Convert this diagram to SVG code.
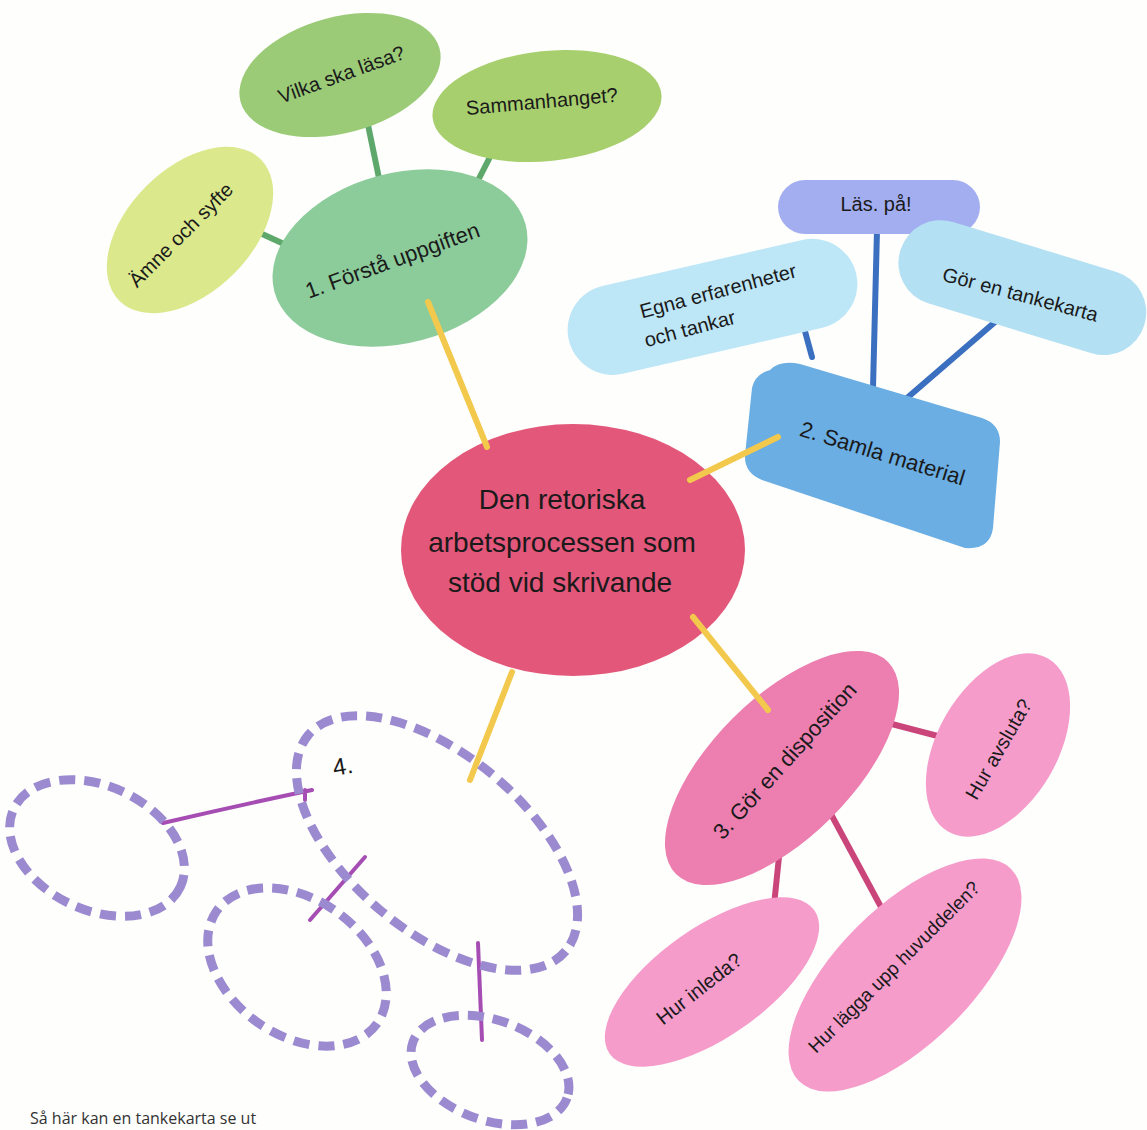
<svg xmlns="http://www.w3.org/2000/svg" width="1147" height="1130" viewBox="0 0 1147 1130">
<style>
.t{font-family:"Liberation Sans",Arial,sans-serif;fill:#1a1a1a;text-anchor:middle;dominant-baseline:middle}
.c{fill:none;stroke-linecap:round}
.g{stroke:#5fa86c;stroke-width:6}
.y{stroke:#f2c94c;stroke-width:6}
.b{stroke:#3b6fbf;stroke-width:6}
.p{stroke:#c9457a;stroke-width:6}
.v{stroke:#a64db3;stroke-width:4}
.d{fill:none;stroke:#9c8ad0;stroke-width:9;stroke-dasharray:16 9}
</style>
<rect width="1147" height="1130" fill="#fefefc"/>
<g id="connectors">
<line class="c g" x1="367" y1="120" x2="380" y2="183"/>
<line class="c g" x1="490" y1="157" x2="470" y2="196"/>
<line class="c g" x1="260" y1="233" x2="308" y2="255"/>
<line class="c b" x1="800" y1="313" x2="812" y2="357"/>
<line class="c b" x1="877" y1="230" x2="873" y2="388"/>
<line class="c b" x1="995" y1="322" x2="907" y2="398"/>
<line class="c p" x1="888" y1="723" x2="953" y2="740"/>
<line class="c p" x1="780" y1="847" x2="773" y2="915"/>
<line class="c p" x1="825" y1="803" x2="888" y2="920"/>
</g>
<g id="n-amne"><ellipse cx="190" cy="230" rx="100" ry="62" transform="rotate(-45 190 230)" fill="#dbe88c"/><text class="t" x="182" y="236" font-size="20" transform="rotate(-45 182 236)">Ämne och syfte</text></g>
<g id="n-vilka"><ellipse cx="340" cy="75" rx="103" ry="58" transform="rotate(-15 340 75)" fill="#9ccb78"/><text class="t" x="342" y="76" font-size="20" transform="rotate(-20 342 76)">Vilka ska läsa?</text></g>
<g id="n-samman"><ellipse cx="547" cy="106" rx="115" ry="55" transform="rotate(-6 547 106)" fill="#a8cf6e"/><text class="t" x="542" y="103" font-size="20" transform="rotate(-5 542 103)">Sammanhanget?</text></g>
<g id="n-forsta"><ellipse cx="400" cy="258" rx="130" ry="85" transform="rotate(-15 400 258)" fill="#8ccb9a"/><text class="t" x="393" y="262" font-size="22" transform="rotate(-20 393 262)">1. Förstå uppgiften</text></g>
<g id="n-las"><rect x="778" y="180" width="202" height="54" rx="27" fill="#a3aef0"/><text class="t" x="876" y="206" font-size="20">Läs. på!</text></g>
<g id="n-egna"><rect x="565" y="262" width="295" height="90" rx="45" transform="rotate(-13 712 307)" fill="#bde6f7"/><text class="t" font-size="20" transform="rotate(-15 712 307)"><tspan x="722" y="295">Egna erfarenheter</tspan><tspan x="685" y="324">och tankar</tspan></text></g>
<g id="n-gor"><rect x="895" y="245" width="255" height="85" rx="42" transform="rotate(17 1022 287)" fill="#b3e0f3"/><text class="t" x="1020" y="296" font-size="20" transform="rotate(15 1020 296)">Gör en tankekarta</text></g>
<g id="n-samla"><path d="M770,370 Q780,360 800,364 L982,418 Q1000,424 1000,442 L993,528 Q990,550 965,548 L762,480 Q744,473 745,455 L752,388 Q755,374 770,370 Z" fill="#6aaee3"/><text class="t" x="882" y="455" font-size="22" transform="rotate(17 882 455)">2. Samla material</text></g>
<g id="n-center"><ellipse cx="573" cy="550" rx="172" ry="126" fill="#e2577a"/><text class="t" font-size="28"><tspan x="562" y="502">Den retoriska</tspan><tspan x="562" y="545">arbetsprocessen som</tspan><tspan x="560" y="585">stöd vid skrivande</tspan></text></g>
<g id="n-disp"><ellipse cx="782" cy="768" rx="150" ry="70" transform="rotate(-45 782 768)" fill="#ec7fb0"/><text class="t" x="786" y="762" font-size="22" transform="rotate(-48 786 762)">3. Gör en disposition</text></g>
<g id="n-avsluta"><ellipse cx="998" cy="745" rx="100" ry="60" transform="rotate(-60 998 745)" fill="#f59ccb"/><text class="t" x="1000" y="750" font-size="20" transform="rotate(-60 1000 750)">Hur avsluta?</text></g>
<g id="n-inleda"><ellipse cx="712" cy="982" rx="125" ry="55" transform="rotate(-35 712 982)" fill="#f59ccb"/><text class="t" x="700" y="990" font-size="20" transform="rotate(-38 700 990)">Hur inleda?</text></g>
<g id="n-huvud"><ellipse cx="905" cy="975" rx="150" ry="68" transform="rotate(-45 905 975)" fill="#f59ccb"/><text class="t" x="895" y="968" font-size="19" transform="rotate(-45 895 968)">Hur lägga upp huvuddelen?</text></g>
<g id="purple-connectors">
<line class="c y" x1="428" y1="302" x2="487" y2="447"/>
<line class="c y" x1="778" y1="437" x2="690" y2="480"/>
<line class="c y" x1="693" y1="617" x2="768" y2="710"/>
<line class="c y" x1="512" y1="672" x2="470" y2="780"/>
<path class="c v" d="M163,823 Q240,805 312,790 M305,790 L305,800"/>
<line class="c v" x1="365" y1="857" x2="310" y2="920"/>
<line class="c v" x1="478" y1="943" x2="482" y2="1040"/>
</g>
<g id="n-4"><ellipse class="d" cx="437" cy="843" rx="168" ry="88" transform="rotate(40 437 843)"/><text class="t" x="343" y="768" font-size="24" transform="rotate(-10 343 768)">4.</text></g>
<g id="n-4a"><ellipse class="d" cx="97" cy="848" rx="92" ry="62" transform="rotate(25 97 848)"/></g>
<g id="n-4b"><ellipse class="d" cx="297" cy="967" rx="98" ry="68" transform="rotate(35 297 967)"/></g>
<g id="n-4c"><ellipse class="d" cx="490" cy="1070" rx="82" ry="50" transform="rotate(20 490 1070)"/></g>
<text x="30" y="1124" font-family="Open Sans, Liberation Sans, sans-serif" font-size="16" fill="#333">Så här kan en tankekarta se ut</text>
</svg>
